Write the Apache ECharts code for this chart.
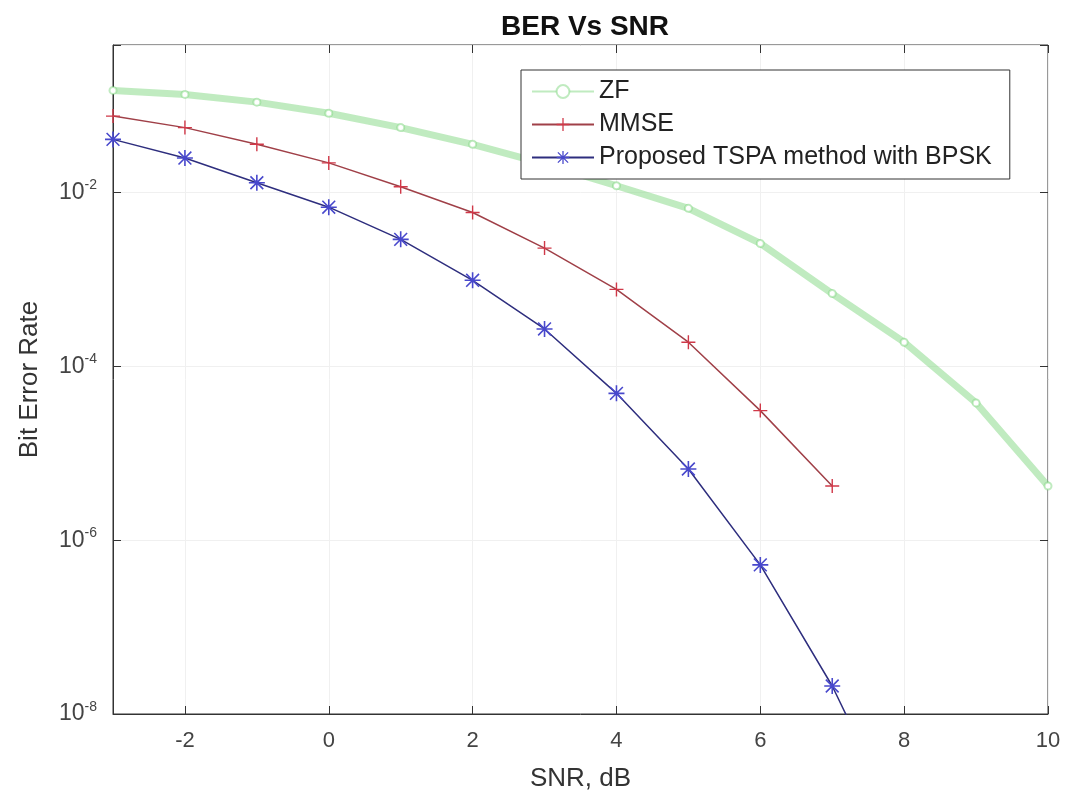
<!DOCTYPE html>
<html>
<head>
<meta charset="utf-8">
<title>BER Vs SNR</title>
<script src="https://cdn.jsdelivr.net/npm/echarts@6/dist/echarts.min.js"></script>
<style>
    html, body { margin: 0; padding: 0; background: #fff; }
    #berChart { width: 1065px; height: 798px; }
</style>
</head>
<body>
<div id="berChart"></div>
<script>
var snr = [-3, -2, -1, 0, 1, 2, 3, 4, 5, 6, 7, 8, 9, 10];

var zfBer = [0.15, 0.135, 0.11, 0.082, 0.056, 0.036, 0.0214, 0.012, 0.0066, 0.0026, 6.9e-4, 1.9e-4, 3.8e-5, 4.2e-6];
var mmseBer = [0.076, 0.056, 0.036, 0.022, 0.0117, 0.0059, 0.0023, 7.7e-4, 1.9e-4, 3.1e-5, 4.2e-6];
var tspaBer = [0.041, 0.025, 0.013, 0.0068, 0.0029, 9.8e-4, 2.7e-4, 4.9e-5, 6.6e-6, 5.2e-7, 2.1e-8, 4e-10];

var legendNames = ['ZF', 'MMSE', 'Proposed TSPA method with BPSK'];

// matlab style markers
var plusMark = 'path://M9,0H11V9H20V11H11V20H9V11H0V9H9Z';
var starMark = 'path://M0,9H20V11H0Z M9,0H11V20H9Z M2.7,1.3L18.7,17.3L17.3,18.7L1.3,2.7Z M17.3,1.3L18.7,2.7L2.7,18.7L1.3,17.3Z';

function pairs(ys) {
    var out = [];
    for (var i = 0; i < ys.length; i++) {
        out.push([snr[i], ys[i]]);
    }
    return out;
}

// only even decades get a label
function powLabel(v) {
    var e = Math.log10(v);
    var r = Math.round(e);
    if (Math.abs(e - r) > 1e-6 || r % 2 !== 0) return '';
    return '{b|10}{s|' + r + '}';
}

var berChart = echarts.init(document.getElementById('berChart'));

var option = {
    backgroundColor: '#fff',
    animation: false,
    title: {
        text: 'BER Vs SNR',
        left: 580,
        textAlign: 'center',
        top: 8,
        textStyle: {fontFamily: 'Liberation Sans', fontSize: 28, fontWeight: 'bold', color: '#111'}
    },
    legend: {
        data: legendNames,
        orient: 'vertical',
        left: 521,
        top: 70,
        padding: [9, 18, 9, 10],
        itemWidth: 62,
        itemHeight: 16,
        itemGap: 8,
        backgroundColor: '#fff',
        borderColor: '#333',
        borderWidth: 1,
        textStyle: {fontFamily: 'Liberation Sans', fontSize: 25, color: '#222', lineHeight: 24}
    },
    grid: {
        left: 113,
        right: 17,
        top: 45,
        bottom: 84,
        show: true,
        borderColor: '#333',
        borderWidth: 1
    },
    xAxis: [
        {
            type: 'value',
            min: -3,
            max: 10,
            splitNumber: 6,
            name: 'SNR, dB',
            nameLocation: 'middle',
            nameGap: 52,
            nameTextStyle: {fontFamily: 'Liberation Sans', fontSize: 26, color: '#333'},
            axisLine: {onZero: false, lineStyle: {color: '#333'}},
            axisTick: {inside: true, length: 8, lineStyle: {color: '#333'}},
            axisLabel: {showMinLabel: false, margin: 16, fontFamily: 'Liberation Sans', fontSize: 22, color: '#444'},
            splitLine: {show: true, lineStyle: {color: '#f0f0f0'}}
        },
        {
            type: 'value',
            position: 'top',
            min: -3,
            max: 10,
            splitNumber: 6,
            axisLine: {show: false, onZero: false},
            axisTick: {inside: true, length: 8, lineStyle: {color: '#333'}},
            axisLabel: {show: false},
            splitLine: {show: false}
        }
    ],
    yAxis: [
        {
            type: 'log',
            logBase: 10,
            min: 1e-8,
            max: 0.5,
            interval: 2,
            name: 'Bit Error Rate',
            nameLocation: 'middle',
            nameGap: 70,
            nameTextStyle: {fontFamily: 'Liberation Sans', fontSize: 26, color: '#333'},
            axisLine: {show: true, onZero: false, lineStyle: {color: '#333'}},
            axisTick: {inside: true, length: 8, lineStyle: {color: '#333'}},
            axisLabel: {
                margin: 16,
                formatter: powLabel,
                rich: {
                    b: {fontFamily: 'Liberation Sans', fontSize: 23, color: '#444'},
                    s: {fontFamily: 'Liberation Sans', fontSize: 14, color: '#444', padding: [0, 0, 14, 0]}
                }
            },
            splitLine: {show: true, lineStyle: {color: '#f0f0f0'}}
        },
        {
            type: 'log',
            logBase: 10,
            position: 'right',
            min: 1e-8,
            max: 0.5,
            interval: 2,
            axisLine: {show: false, onZero: false},
            axisTick: {inside: true, length: 8, lineStyle: {color: '#333'}},
            axisLabel: {show: false},
            splitLine: {show: false}
        }
    ],
    series: [
        {
            name: 'ZF',
            type: 'line',
            data: pairs(zfBer),
            symbol: 'emptyCircle',
            symbolSize: 7,
            lineStyle: {color: 'rgba(130,215,130,0.5)', width: 7},
            itemStyle: {color: 'rgba(130,215,130,0.5)', borderColor: 'rgba(110,200,120,0.55)', borderWidth: 1}
        },
        {
            name: 'MMSE',
            type: 'line',
            data: pairs(mmseBer),
            symbol: plusMark,
            symbolSize: 14,
            lineStyle: {color: '#a04048', width: 1.5},
            itemStyle: {color: '#d03848'}
        },
        {
            name: 'Proposed TSPA method with BPSK',
            type: 'line',
            data: pairs(tspaBer),
            symbol: starMark,
            symbolSize: 16,
            lineStyle: {color: '#2e2e7e', width: 1.5},
            itemStyle: {color: '#4848cc'}
        }
    ]
};

berChart.setOption(option);
window.addEventListener('resize', function () {
    berChart.resize();
});
</script>
</body>
</html>
